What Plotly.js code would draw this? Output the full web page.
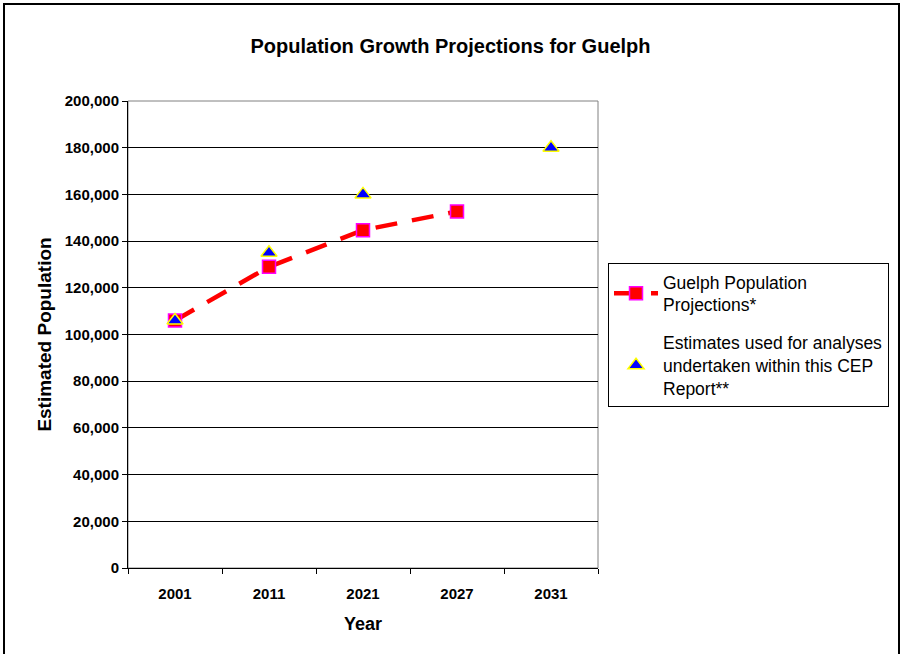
<!DOCTYPE html>
<html>
<head>
<meta charset="utf-8">
<script src="https://cdn.plot.ly/plotly-3.0.1.min.js"></script>
<style>
html,body{margin:0;padding:0;background:#fff;}
#wrap{position:relative;width:901px;height:654px;}
#chart{width:901px;height:654px;}
#frame{position:absolute;left:3px;top:3px;width:893px;height:660px;border:2px solid #000;pointer-events:none;}
</style>
</head>
<body>
<div id="wrap"><div id="chart"></div><div id="frame"></div></div>
<script>
const years = ['2001','2011','2021','2027','2031'];
const projections = [106000, 129000, 144700, 152700, null];
const estimates = [106000, 135000, 160000, null, 180000];
const yTicks = [0,20000,40000,60000,80000,100000,120000,140000,160000,180000,200000];

const FONT = 'Arial, Liberation Sans, sans-serif';

const traces = [
  {
    x: years, y: projections, type: 'scatter', mode: 'lines+markers',
    name: 'Guelph Population<br>Projections*', legendgroup: 'a',
    line: {color: '#FF0000', width: 4.5, dash: '22px,15px'},
    marker: {symbol: 'square', size: 13, color: '#FF0000', line: {color: '#FF00FF', width: 1.5}},
    connectgaps: false
  },
  {
    x: years, y: estimates, type: 'scatter', mode: 'markers',
    name: 'Estimates used for analyses<br>undertaken within this CEP<br>Report**', legendgroup: 'b',
    marker: {symbol: 'triangle-up', size: 14, color: '#0000FF', line: {color: '#FFFF00', width: 1.5}}
  }
];

const layout = {
  width: 901, height: 654,
  margin: {l: 128, r: 303, t: 101, b: 86, autoexpand: false},
  paper_bgcolor: '#fff', plot_bgcolor: '#fff',
  font: {family: FONT, color: '#000'},
  title: {text: 'Population Growth Projections for Guelph', font: {size: 20, family: FONT, weight: 'bold'}, x: 0.5, xanchor: 'center', y: 0.93, yanchor: 'middle'},
  xaxis: {
    type: 'category', range: [-0.5, 4.5], tickson: 'boundaries',
    ticks: 'outside', ticklen: 5, tickcolor: '#000', showline: true, linecolor: '#000', linewidth: 1,
    showgrid: false, zeroline: false, ticklabelstandoff: 12,
    tickfont: {size: 15, family: FONT, weight: 'bold'},
    title: {text: 'Year', font: {size: 18, weight: 'bold'}, standoff: 16}
  },
  yaxis: {
    range: [0, 200000], tickvals: yTicks, tickformat: ',d',
    ticks: 'outside', ticklen: 5, tickcolor: '#000', showline: true, linecolor: '#000', linewidth: 1,
    showgrid: true, gridcolor: '#000', gridwidth: 1, zeroline: false,
    tickfont: {size: 15, family: FONT, weight: 'bold'},
    title: {text: 'Estimated Population', font: {size: 19, weight: 'bold'}, standoff: 8}
  },
  legend: {
    x: 1.0213, y: 0.653, xanchor: 'left', yanchor: 'top',
    bordercolor: '#000', borderwidth: 1, bgcolor: '#fff',
    font: {size: 17.5, family: FONT},
    traceorder: 'grouped', tracegroupgap: 12, itemwidth: 44
  },
  shapes: [
    {type: 'rect', xref: 'paper', yref: 'paper', x0: 0, x1: 1, y0: 0, y1: 1, line: {color: '#808080', width: 1}, layer: 'below'}
  ],
  showlegend: true
};

Plotly.newPlot('chart', traces, layout, {displayModeBar: false, staticPlot: true});
</script>
</body>
</html>
